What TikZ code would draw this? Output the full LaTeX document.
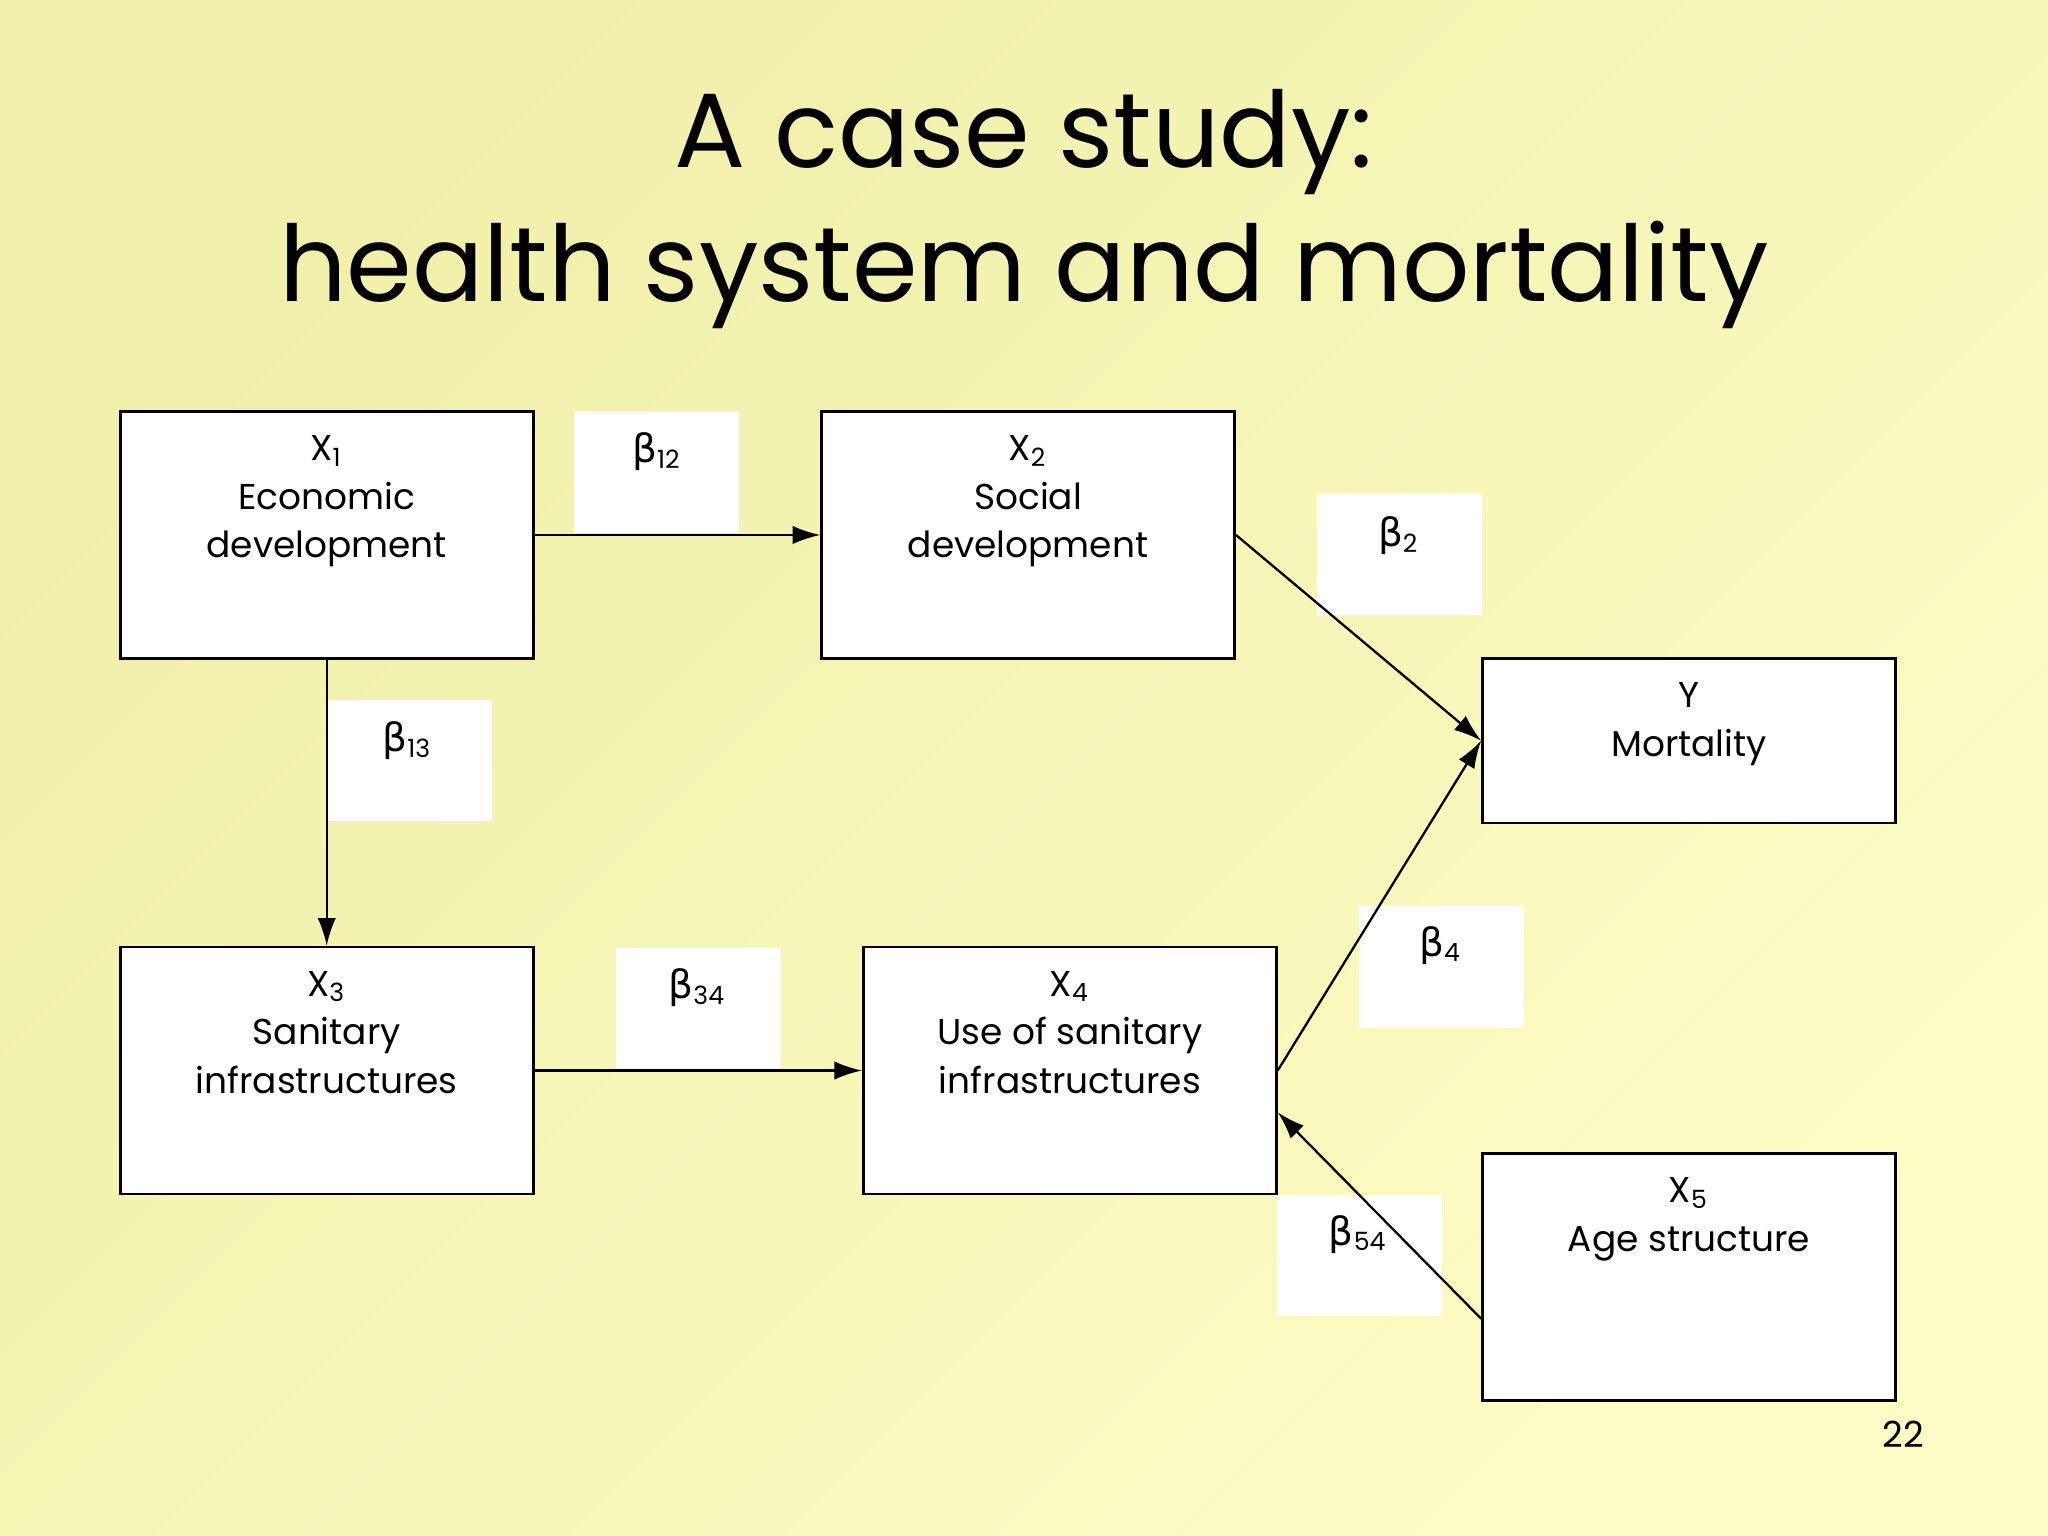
\documentclass[tikz,border=0pt]{standalone}
\usepackage{fontspec}
\setmainfont{Poppins}[Scale=0.92]
\newfontfamily\grk{DejaVu Sans}
\usetikzlibrary{arrows.meta}
\definecolor{bgA}{RGB}{240,240,170}
\definecolor{bgB}{RGB}{252,252,196}
\begin{document}
\begin{tikzpicture}[x=0.01cm,y=-0.01cm,
  box/.style={draw=black,line width=0.6pt,fill=white,minimum width=3.16cm,anchor=north west,inner sep=0pt},
  lab/.style={fill=white,minimum width=1.26cm,minimum height=0.93cm,anchor=north west,inner sep=0pt},
  btxt/.style={anchor=north,align=center,font=\fontsize{8.5pt}{10.6pt}\selectfont},
  beta/.style={font=\fontsize{8.5pt}{10pt}\selectfont},
  arr/.style={-{Latex[length=6pt,width=4pt]},line width=0.5pt}]
\shade[left color=bgA, right color=bgB,shading angle=45] (0,0) rectangle (1568,1176);
\useasboundingbox (0,0) rectangle (1568,1176);
\node[font=\fontsize{25pt}{29pt}\selectfont,align=center] (title) at (784,160) {A case study:\\health system and mortality};
% beta labels
\node[lab] (b12) at (439,314) {}; \node[beta] at (503,346) {{\grk β}\textsubscript{12}};
\node[lab] (b2) at (1008,377) {}; \node[beta] at (1071,410) {{\grk β}\textsubscript{2}};
\node[lab] (b13) at (250,535) {}; \node[beta] at (312,567) {{\grk β}\textsubscript{13}};
\node[lab] (b34) at (471,725) {}; \node[beta] at (534,756) {{\grk β}\textsubscript{34}};
\node[lab] (b4) at (1040,693) {}; \node[beta] at (1103,724) {{\grk β}\textsubscript{4}};
\node[lab] (b54) at (977,914) {}; \node[beta] at (1040,945) {{\grk β}\textsubscript{54}};
% boxes
\node[box,minimum height=1.89cm] (x1) at (91,314) {};
\node[box,minimum height=1.89cm] (x2) at (628,314) {};
\node[box,minimum height=1.26cm] (y) at (1134,503) {};
\node[box,minimum height=1.89cm] (x3) at (91,724) {};
\node[box,minimum height=1.89cm] (x4) at (660,724) {};
\node[box,minimum height=1.89cm] (x5) at (1134,882) {};
\node[btxt] (t1) at ([yshift=-0.08cm]x1.north) {X\textsubscript{1}\\Economic\\development};
\node[btxt] (t2) at ([yshift=-0.08cm]x2.north) {X\textsubscript{2}\\Social\\development};
\node[btxt] (ty) at ([yshift=-0.08cm]y.north) {Y\\Mortality};
\node[btxt] (t3) at ([yshift=-0.08cm]x3.north) {X\textsubscript{3}\\Sanitary\\infrastructures};
\node[btxt] (t4) at ([yshift=-0.08cm]x4.north) {X\textsubscript{4}\\Use of sanitary\\infrastructures};
\node[btxt] (t5) at ([yshift=-0.08cm]x5.north) {X\textsubscript{5}\\Age structure};
% arrows
\draw[arr] (x1.east) -- (x2.west);
\draw[arr] (x1.south) -- (x3.north);
\draw[arr] (x3.east) -- (x4.west);
\draw[arr] (x2.east) -- (y.west);
\draw[arr] (x4.east) -- (y.west);
\draw[arr] ([yshift=-0.32cm]x5.west) -- ([yshift=-0.32cm]x4.east);
\node[font=\fontsize{8.5pt}{10pt}\selectfont] (pg) at (1457,1098) {22};
\end{tikzpicture}
\end{document}
